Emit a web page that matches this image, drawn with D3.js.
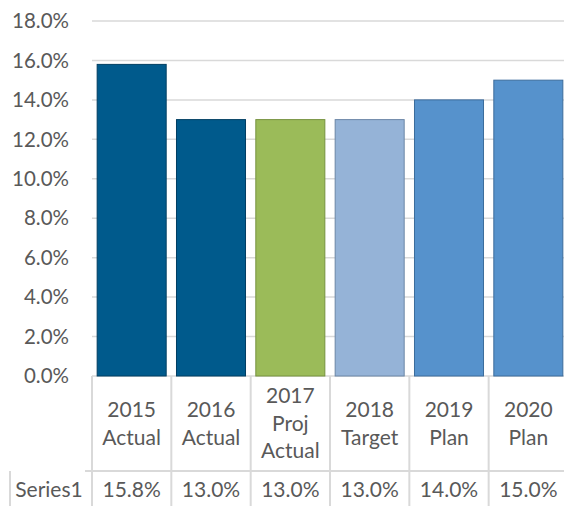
<!DOCTYPE html>
<html lang="en">
<head>
    <meta charset="UTF-8">
    <title>Series1</title>
    <script src="https://d3js.org/d3.v7.min.js"></script>
    <style>
        body {margin: 0; background: white;}
        text {font-family: Lato, "Open Sans", sans-serif; fill: #595959; font-size: 20.5px;}
        .cat text, .cat, .vals text, .sname {font-size: 21px;}
        .grid line {stroke: #d9d9d9; stroke-width: 1.5px;}
        .tbl line {stroke: #d9d9d9; stroke-width: 2px;}
    </style>
</head>
<body>
<div id="chart"></div>
<script>

    var categories = [["2015", "Actual"], ["2016", "Actual"], ["2017", "Proj", "Actual"], ["2018", "Target"], ["2019", "Plan"], ["2020", "Plan"]],
        values = [15.8, 13.0, 13.0, 13.0, 14.0, 15.0],
        fills = ["#005a8c", "#005a8c", "#9bbb59", "#95b3d7", "#5692cc", "#5692cc"],
        strokes = ["#003e62", "#003e62", "#76923f", "#6b86a6", "#3c6c9c", "#3c6c9c"],
        yTicks = [0, 2, 4, 6, 8, 10, 12, 14, 16, 18],
        seriesName = "Series1";

    var width = 564, height = 506;
    var plotLeft = 92, plotRight = 568, plotTop = 21, plotBottom = 376,
        catRowBottom = 471;

    var svg = d3.select("#chart").append("svg")
        .attr("width", width)
        .attr("height", height);

    var x = d3.scaleBand()
        .domain(d3.range(categories.length))
        .range([plotLeft, plotRight])
        .paddingInner(0.13)
        .paddingOuter(0.065);

    var y = d3.scaleLinear()
        .domain([0, 18])
        .range([plotBottom, plotTop]);

    var fmt = function(d) {return d3.format(".1f")(d) + "%"};

    // gridlines
    svg.append("g").attr("class", "grid")
        .selectAll("line")
        .data(yTicks)
        .enter().append("line")
        .attr("x1", plotLeft).attr("x2", width)
        .attr("y1", function(d) {return y(d)})
        .attr("y2", function(d) {return y(d)});

    // y labels
    svg.append("g")
        .selectAll("text")
        .data(yTicks)
        .enter().append("text")
        .attr("x", 69)
        .attr("y", function(d) {return y(d)})
        .attr("dy", "0.35em")
        .attr("text-anchor", "end")
        .text(fmt);

    // bars
    svg.append("g")
        .selectAll("rect")
        .data(values)
        .enter().append("rect")
        .attr("x", function(d, i) {return x(i)})
        .attr("y", function(d) {return y(d)})
        .attr("width", x.bandwidth())
        .attr("height", function(d) {return y(0) - y(d)})
        .attr("fill", function(d, i) {return fills[i]})
        .attr("stroke", function(d, i) {return strokes[i]})
        .attr("stroke-width", 1);

    // data table
    var step = x.step();
    var edges = d3.range(categories.length + 1).map(function(i) {return plotLeft + i * step});
    var tbl = svg.append("g").attr("class", "tbl");

    tbl.selectAll(".vline")
        .data(edges)
        .enter().append("line")
        .attr("class", "vline")
        .attr("x1", function(d) {return d}).attr("x2", function(d) {return d})
        .attr("y1", plotBottom).attr("y2", height);

    tbl.append("line")
        .attr("x1", 85).attr("x2", width)
        .attr("y1", catRowBottom).attr("y2", catRowBottom);

    tbl.append("line")
        .attr("x1", 10).attr("x2", 10)
        .attr("y1", catRowBottom).attr("y2", height);

    var lineH = 27.5,
        rowMid = (plotBottom + catRowBottom) / 2;

    var catText = svg.append("g").attr("class", "cat")
        .selectAll("text")
        .data(categories)
        .enter().append("text")
        .attr("text-anchor", "middle")
        .attr("transform", function(d, i) {return "translate(" + (edges[i] + step / 2) + "," + rowMid + ")"});

    catText.selectAll("tspan")
        .data(function(d) {return d.map(function(t, j) {return {t: t, j: j, n: d.length}})})
        .enter().append("tspan")
        .attr("x", 0)
        .attr("y", function(d) {return (d.j - (d.n - 1) / 2) * lineH})
        .attr("dy", "0.35em")
        .text(function(d) {return d.t});

    var seriesY = 490;

    svg.append("text")
        .attr("class", "sname")
        .attr("x", 49)
        .attr("y", seriesY)
        .attr("dy", "0.35em")
        .attr("text-anchor", "middle")
        .text(seriesName);

    svg.append("g").attr("class", "vals")
        .selectAll("text")
        .data(values)
        .enter().append("text")
        .attr("x", function(d, i) {return edges[i] + step / 2})
        .attr("y", seriesY)
        .attr("dy", "0.35em")
        .attr("text-anchor", "middle")
        .text(fmt);

</script>
</body>
</html>
